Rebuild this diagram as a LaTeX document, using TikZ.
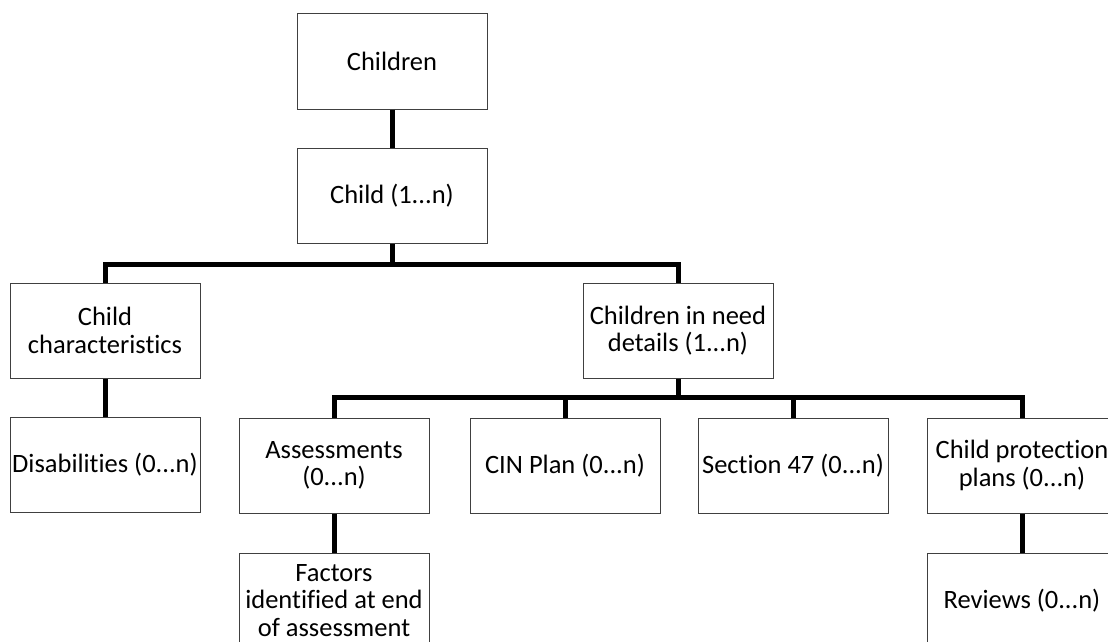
\documentclass[tikz,border=0pt]{standalone}
\usepackage{fontspec}
\setmainfont{Carlito}[Ligatures=NoCommon]
\begin{document}
\begin{tikzpicture}[x=1pt,y=-1pt,
  box/.style={draw=black!75, line width=1pt, fill=white, minimum width=190pt,
    minimum height=95pt, inner sep=0pt, align=center,
    font=\fontsize{26.5}{27.5}\selectfont},
  link/.style={line width=5pt, draw=black}]
\useasboundingbox (0,0) rectangle (1108,642);
\clip (0,0) rectangle (1108,642);
\node[box] (children) at (392,61.5) {Children};
\node[box] (child) at (392,196) {Child (1...n)};
\node[box] (chars) at (105,330.5) {Child\\characteristics};
\node[box] (cin) at (678,330.5) {Children in need\\details (1...n)};
\node[box] (dis) at (105,465) {Disabilities (0...n)};
\node[box] (ass) at (334,465.5) {Assessments\\(0...n)};
\node[box] (plan) at (565,465.5) {CIN Plan (0...n)};
\node[box] (s47) at (793,465.5) {Section 47 (0...n)};
\node[box] (cpp) at (1022,465.5) {Child protection\\plans (0...n)};
\node[box] (fac) at (334,600.5) {Factors\\identified at end\\of assessment};
\node[box] (rev) at (1022,600.5) {Reviews (0...n)};
\draw[link] (children.south) -- (child.north);
\draw[link] (child.south) -- ++(0,20) coordinate (b1);
\draw[link] (chars.north) |- (b1) -| (cin.north);
\draw[link] (chars.south) -- (dis.north);
\draw[link] (cin.south) -- ++(0,19) coordinate (b2);
\draw[link] (ass.north) |- (b2) -| (cpp.north);
\draw[link] (plan.north) -- (plan.north |- b2);
\draw[link] (s47.north) -- (s47.north |- b2);
\draw[link] (ass.south) -- (fac.north);
\draw[link] (cpp.south) -- (rev.north);
\end{tikzpicture}
\end{document}
